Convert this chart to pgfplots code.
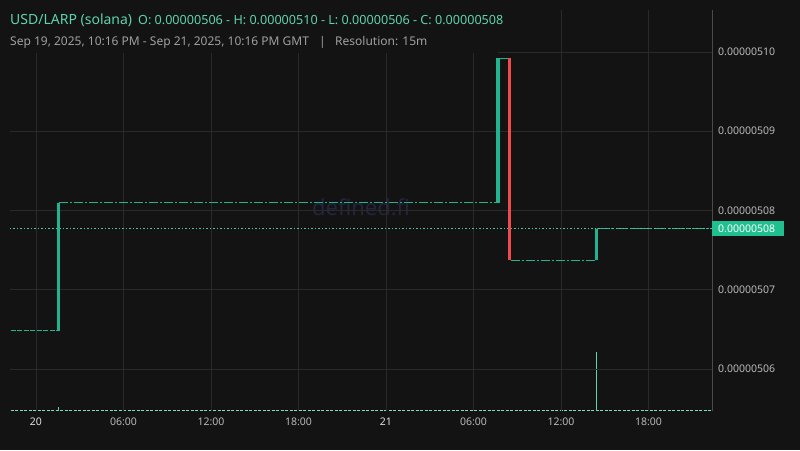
\documentclass[border=0pt]{standalone}
\usepackage{pgfplots}
\pgfplotsset{compat=1.18}
\usepackage{fontspec}
\setmainfont{Noto Sans}

\definecolor{bg}{HTML}{131313}
\definecolor{gridc}{HTML}{2A2A2A}
\definecolor{axc}{HTML}{4A4A4A}
\definecolor{up}{HTML}{22B48E}
\definecolor{down}{HTML}{EF4B4B}
\definecolor{ttl}{HTML}{5ED4AC}
\definecolor{sub}{HTML}{A0A0A0}
\definecolor{tick}{HTML}{B8B8B8}
\definecolor{day}{HTML}{E0E0E0}
\definecolor{wm}{HTML}{24243E}
\definecolor{tag}{HTML}{1FBF8F}

\begin{document}
\begin{tikzpicture}
\useasboundingbox (0,0) rectangle (800pt,450pt);
\fill[bg] (0,0) rectangle (800pt,450pt);

% watermark behind the data
\node[wm, font=\fontsize{22}{22}\selectfont] at (361pt,243pt) {defined.fi};

% volume
\begin{axis}[
    at={(10pt,39pt)}, anchor=south west,
    width=702pt, height=401pt, scale only axis,
    xmin=-1.78, xmax=46.36, ymin=0, ymax=401,
    hide axis
]
\addplot[ttl!80!white, line width=0.5pt, dash pattern=on 3pt off 1.5pt] coordinates {(-1.73,1) (46.3,1)};
\addplot[ycomb, ttl, line width=1.6pt] coordinates {(1.54,4) (38.43,59)};
\end{axis}

% price
\begin{axis}[
    at={(10pt,39pt)}, anchor=south west,
    width=702pt, height=401pt, scale only axis,
    xmin=-1.78, xmax=46.36, ymin=505.47, ymax=510.53,
    axis line style={draw=none},
    grid=major, grid style={gridc, line width=0.8pt},
    major tick length=0pt,
    xtick={0,6,12,18,24,30,36,42},
    xticklabels={\textcolor{day}{\textbf{20}},06:00,12:00,18:00,\textcolor{day}{\textbf{21}},06:00,12:00,18:00},
    xticklabel style={font=\fontsize{10.5}{11}\selectfont, text=tick, anchor=base, yshift=-14pt},
    ytick={506,507,508,509,510},
    yticklabels={0.00000506,0.00000507,0.00000508,0.00000509,0.00000510},
    yticklabel pos=right,
    yticklabel style={font=\fontsize{10.5}{11}\selectfont, text=tick, anchor=west, xshift=4pt, inner sep=2pt},
    clip=false
]
\draw[axc, line width=0.8pt] (rel axis cs:1,0) -- (rel axis cs:1,1);

% flat runs of tiny candles
\addplot[up, line width=1pt, dash pattern=on 5pt off 1.5pt] coordinates {(-1.73,506.48) (1.45,506.48)};
\addplot[up, line width=0.8pt, dash pattern=on 9pt off 2pt on 2pt off 2pt] coordinates {(1.6,508.10) (31.6,508.10)};
\addplot[up, line width=0.8pt] coordinates {(31.75,509.92) (32.35,509.92)};
\addplot[up, line width=0.8pt, dash pattern=on 9pt off 2pt on 2pt off 2pt] coordinates {(32.55,507.37) (38.33,507.37)};
\addplot[up, line width=0.8pt, dash pattern=on 12pt off 2pt on 3pt off 2pt] coordinates {(38.5,507.77) (46.3,507.77)};

% last price
\addplot[up!80!white, line width=0.7pt, dash pattern=on 1.5pt off 2pt] coordinates {(-1.78,507.77) (46.36,507.77)};

% big candles
\addplot[up, line width=3.2pt] coordinates {(1.54,506.48) (1.54,508.10)};
\addplot[up, line width=3.2pt] coordinates {(31.69,508.10) (31.69,509.92)};
\addplot[down, line width=3.2pt] coordinates {(32.46,509.92) (32.46,507.37)};
\addplot[up, line width=3.2pt] coordinates {(38.43,507.37) (38.43,507.77)};

% price tag
\fill[tag] ([yshift=-7.5pt]axis cs:46.36,507.77) rectangle ++(72pt,15pt);
\node[anchor=west, inner sep=0pt, text=white, font=\fontsize{10.5}{11}\selectfont]
    at ([xshift=6pt]axis cs:46.36,507.77) {0.00000508};
\end{axis}

% header
\fill[bg] (0,397pt) rectangle (498pt,450pt);
\node[anchor=base west, inner sep=0pt, text=ttl, font=\fontsize{14}{15}\selectfont] at (10pt,425pt) {USD/LARP (solana)};
\node[anchor=base west, inner sep=0pt, text=ttl, font=\fontsize{12.6}{13}\selectfont] at (138pt,425pt) {O: 0.00000506 - H: 0.00000510 - L: 0.00000506 - C: 0.00000508};
\node[anchor=base west, inner sep=0pt, text=sub, font=\fontsize{12}{13}\selectfont] at (10pt,404pt) {Sep 19, 2025, 10:16 PM - Sep 21, 2025, 10:16 PM GMT};
\node[anchor=base west, inner sep=0pt, text=sub, font=\fontsize{12}{13}\selectfont] at (319pt,404pt) {|};
\node[anchor=base west, inner sep=0pt, text=sub, font=\fontsize{12}{13}\selectfont] at (335pt,404pt) {Resolution: 15m};
\end{tikzpicture}
\end{document}
